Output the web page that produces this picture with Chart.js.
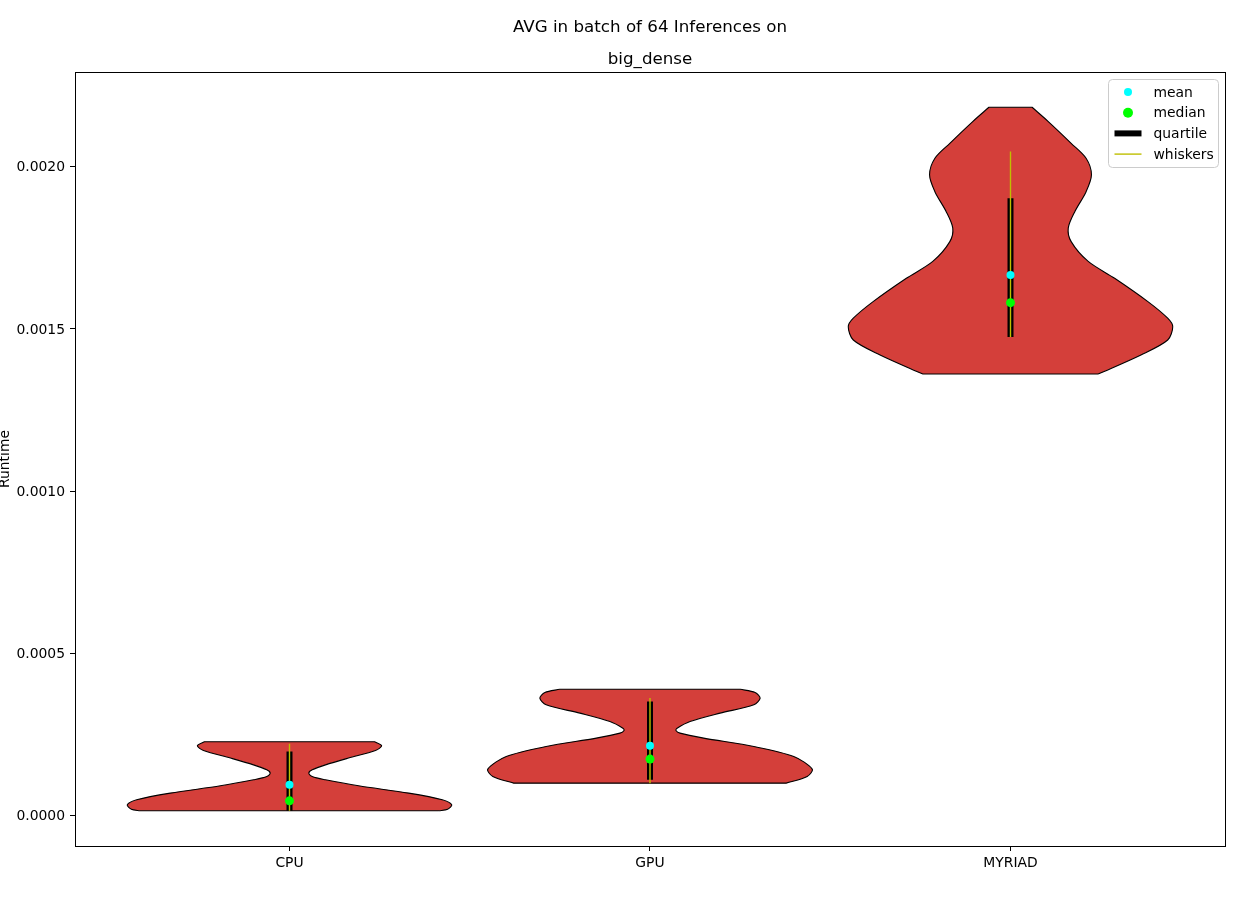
<!DOCTYPE html>
<html>
<head>
<meta charset="utf-8">
<script src="https://cdn.jsdelivr.net/npm/chart.js@4.4.0/dist/chart.umd.min.js"></script>
<style>
    html, body { margin: 0; padding: 0; background: #fff; }
    #wrap { width: 1250px; height: 900px; }
</style>
</head>
<body>
<div id="wrap"><canvas id="chart" width="1250" height="900"></canvas></div>
<script>
const categories = ['CPU', 'GPU', 'MYRIAD'];
const yTickValues = [0, 0.0005, 0.0010, 0.0015, 0.0020];
const yTickLabels = ['0.0000', '0.0005', '0.0010', '0.0015', '0.0020'];

// KDE outline of each violin: runtime from bottom to top, density relative to the violin's max
const cpuRuntime = [0.0000154, 0.0000200, 0.0000339, 0.0000493, 0.0000700, 0.0000924, 0.0001110, 0.0001210,
    0.0001315, 0.0001417, 0.0001570, 0.0001780, 0.0002010, 0.0002157, 0.0002280];
const cpuDensity = [0.92, 0.975, 1.0, 0.942, 0.735, 0.426, 0.222, 0.14, 0.119, 0.14, 0.222, 0.364, 0.53, 0.568, 0.525];

const gpuRuntime = [0.0001007, 0.0001211, 0.0001439, 0.0001827, 0.0002135, 0.0002394, 0.0002548, 0.0002630,
    0.0002700, 0.0002905, 0.0003164, 0.0003420, 0.0003626, 0.0003800, 0.0003900];
const gpuDensity = [0.84, 0.969, 1.0, 0.886, 0.64, 0.331, 0.185, 0.16, 0.167, 0.247, 0.432, 0.64, 0.679, 0.648, 0.556];

const myriadRuntime = [0.001361, 0.001420, 0.001466, 0.001507, 0.001533, 0.001584, 0.001656, 0.001708, 0.001769,
    0.001811, 0.001862, 0.001923, 0.001975, 0.002026, 0.002072, 0.002139, 0.002183];
const myriadDensity = [0.54, 0.804, 0.969, 1.0, 0.969, 0.847, 0.642, 0.479, 0.374, 0.356, 0.397, 0.466, 0.499,
    0.466, 0.374, 0.233, 0.133];

// summary statistics per category
const meanValues = [0.0000955, 0.0002157, 0.001666];
const medianValues = [0.0000462, 0.0001747, 0.001581];
const quartile1 = [0.0000154, 0.0001110, 0.001475];
const quartile3 = [0.0001980, 0.0003520, 0.001903];
const whiskerLow = [0.0000154, 0.0001007, 0.001475];
const whiskerHigh = [0.0002220, 0.0003630, 0.002047];

const HALF_WIDTH = 0.45;
const VIOLIN_COLOR = '#D43F3A';
const MEAN_COLOR = '#00ffff';
const MEDIAN_COLOR = '#00ff00';
const WHISKER_COLOR = '#bfbf00';
const FONT = "'DejaVu Sans', sans-serif";

const outlines = [
    [cpuRuntime, cpuDensity],
    [gpuRuntime, gpuDensity],
    [myriadRuntime, myriadDensity]
];

// closed outline: right side up, left side down; corners doubled so flat cuts stay straight
function violinPoints(index, runtime, density) {
    const right = runtime.map((v, k) => ({ x: index + density[k] * HALF_WIDTH, y: v }));
    const left = runtime.map((v, k) => ({ x: index - density[k] * HALF_WIDTH, y: v })).reverse();
    const top = right[right.length - 1];
    const bottomLeft = left[left.length - 1];
    return [...right, top, ...left.slice(0, 1), ...left, bottomLeft, right[0]];
}

function verticalSegments(lows, highs) {
    return lows.flatMap((lo, i) => [{ x: i, y: lo }, { x: i, y: highs[i] }, { x: i, y: null }]);
}

const allRuntime = [].concat(cpuRuntime, gpuRuntime, myriadRuntime);
const yLo = Math.min(...allRuntime);
const yHi = Math.max(...allRuntime);
const yPad = 0.05 * (yHi - yLo);
const xPad = 0.05 * (categories.length - 1 + 2 * HALF_WIDTH);

const datasets = [];

datasets.push({
    label: 'mean',
    type: 'scatter',
    data: meanValues.map((v, i) => ({ x: i, y: v })),
    backgroundColor: MEAN_COLOR,
    pointRadius: 4,
    pointBorderWidth: 0,
    order: 0
});
datasets.push({
    label: 'median',
    type: 'scatter',
    data: medianValues.map((v, i) => ({ x: i, y: v })),
    backgroundColor: MEDIAN_COLOR,
    pointRadius: 4.5,
    pointBorderWidth: 0,
    order: 0
});
datasets.push({
    label: 'whiskers',
    type: 'line',
    data: verticalSegments(whiskerLow, whiskerHigh),
    borderColor: WHISKER_COLOR,
    borderWidth: 1.4,
    pointRadius: 0,
    spanGaps: false,
    fill: false,
    order: 1
});
datasets.push({
    label: 'quartile',
    type: 'line',
    data: verticalSegments(quartile1, quartile3),
    borderColor: '#000000',
    borderWidth: 6,
    pointRadius: 0,
    spanGaps: false,
    fill: false,
    order: 2
});
outlines.forEach(([runtime, density], i) => {
    datasets.push({
        label: categories[i],
        type: 'line',
        data: violinPoints(i, runtime, density),
        borderColor: '#000000',
        backgroundColor: VIOLIN_COLOR,
        borderWidth: 1.1,
        pointRadius: 0,
        tension: 0.3,
        fill: 'shape',
        order: 3
    });
});

const legendItems = [
    { label: 'mean', kind: 'dot', color: MEAN_COLOR, size: 4 },
    { label: 'median', kind: 'dot', color: MEDIAN_COLOR, size: 5 },
    { label: 'quartile', kind: 'line', color: '#000000', size: 6 },
    { label: 'whiskers', kind: 'line', color: WHISKER_COLOR, size: 1.4 }
];

// centre title and subtitle over the plot area rather than the whole canvas
const centerTitlesPlugin = {
    id: 'centerTitles',
    afterLayout(chart) {
        const mid = (chart.chartArea.left + chart.chartArea.right) / 2;
        chart.boxes.forEach(box => {
            if (box.options && box.options.text !== undefined && box.position === 'top') {
                const half = box.width / 2;
                box.left = mid - half;
                box.right = mid + half;
            }
        });
    }
};

const framePlugin = {
    id: 'frame',
    afterDatasetsDraw(chart) {
        const { ctx, chartArea: a } = chart;
        ctx.save();
        ctx.strokeStyle = '#000000';
        ctx.lineWidth = 1;
        ctx.strokeRect(Math.round(a.left) + 0.5, Math.round(a.top) + 0.5,
            Math.round(a.right - a.left), Math.round(a.bottom - a.top));
        ctx.restore();
    }
};

const boxLegendPlugin = {
    id: 'boxLegend',
    afterDraw(chart) {
        const { ctx, chartArea: a } = chart;
        const w = 110, h = 88, r = 4;
        const x0 = Math.round(a.right) - 7 - w + 0.5;
        const y0 = Math.round(a.top) + 7 + 0.5;
        ctx.save();
        ctx.beginPath();
        ctx.roundRect(x0, y0, w, h, r);
        ctx.fillStyle = 'rgba(255,255,255,0.8)';
        ctx.fill();
        ctx.strokeStyle = '#cccccc';
        ctx.lineWidth = 1;
        ctx.stroke();

        ctx.font = '13.9px ' + FONT;
        ctx.textBaseline = 'middle';
        ctx.textAlign = 'left';
        legendItems.forEach((item, i) => {
            const cy = y0 + 12.5 + i * 20.7;
            const hx0 = x0 + 6, hx1 = x0 + 33;
            if (item.kind === 'dot') {
                ctx.beginPath();
                ctx.arc((hx0 + hx1) / 2, cy, item.size, 0, Math.PI * 2);
                ctx.fillStyle = item.color;
                ctx.fill();
            } else {
                ctx.beginPath();
                ctx.moveTo(hx0, cy);
                ctx.lineTo(hx1, cy);
                ctx.strokeStyle = item.color;
                ctx.lineWidth = item.size;
                ctx.stroke();
            }
            ctx.fillStyle = '#000000';
            ctx.fillText(item.label, x0 + 45, cy + 1);
        });
        ctx.restore();
    }
};

const ctx = document.getElementById('chart').getContext('2d');
new Chart(ctx, {
    type: 'scatter',
    data: { datasets: datasets },
    plugins: [centerTitlesPlugin, framePlugin, boxLegendPlugin],
    options: {
        responsive: false,
        animation: false,
        events: [],
        layout: { padding: { left: 0, right: 25, top: 0, bottom: 0 } },
        plugins: {
            legend: { display: false },
            tooltip: { enabled: false },
            title: {
                display: true,
                text: 'AVG in batch of 64 Inferences on',
                color: '#000000',
                font: { family: FONT, size: 16.7, weight: 'normal', lineHeight: 1.2 },
                padding: { top: 18, bottom: 12 }
            },
            subtitle: {
                display: true,
                text: 'big_dense',
                color: '#000000',
                font: { family: FONT, size: 16.7, weight: 'normal', lineHeight: 1.2 },
                padding: { top: 0, bottom: 2 }
            }
        },
        scales: {
            x: {
                type: 'linear',
                min: -HALF_WIDTH - xPad,
                max: categories.length - 1 + HALF_WIDTH + xPad,
                afterBuildTicks: (scale) => {
                    scale.ticks = categories.map((c, i) => ({ value: i }));
                },
                afterFit: (scale) => { scale.height = 54; },
                ticks: {
                    color: '#000000',
                    font: { family: FONT, size: 13.9 },
                    padding: 4,
                    maxRotation: 0,
                    autoSkip: false,
                    callback: (value) => categories[value]
                },
                grid: {
                    drawOnChartArea: false,
                    drawTicks: true,
                    tickLength: 5,
                    color: '#000000'
                },
                border: { display: false }
            },
            y: {
                type: 'linear',
                min: yLo - yPad,
                max: yHi + yPad,
                afterBuildTicks: (scale) => {
                    scale.ticks = yTickValues.map(v => ({ value: v }));
                },
                afterFit: (scale) => { scale.width = 75; },
                ticks: {
                    color: '#000000',
                    font: { family: FONT, size: 13.9 },
                    padding: 5,
                    labelOffset: 1,
                    autoSkip: false,
                    callback: (value) => yTickLabels[yTickValues.indexOf(value)]
                },
                grid: {
                    drawOnChartArea: false,
                    drawTicks: true,
                    tickLength: 5,
                    color: '#000000'
                },
                border: { display: false },
                title: {
                    display: true,
                    text: 'Runtime',
                    color: '#000000',
                    font: { family: FONT, size: 13.9, lineHeight: 0.8 },
                    padding: 0
                }
            }
        }
    }
});
</script>
</body>
</html>
